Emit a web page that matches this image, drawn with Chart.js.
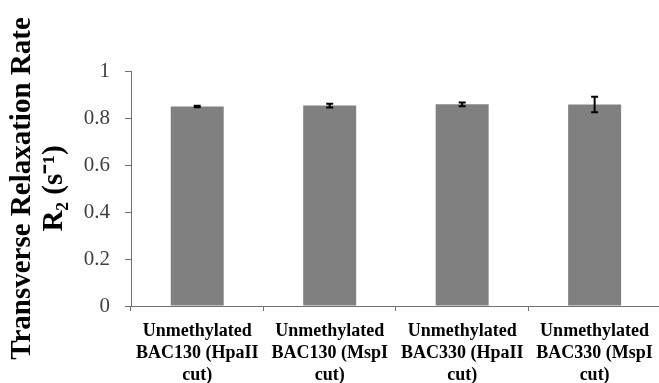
<!DOCTYPE html>
<html>
<head>
<meta charset="utf-8">
<script src="https://cdn.jsdelivr.net/npm/chart.js@4/dist/chart.umd.min.js"></script>
<style>
  html, body { margin: 0; padding: 0; background: #fff; overflow: hidden; }
</style>
</head>
<body>
<canvas id="chart" width="663" height="383"></canvas>
<script>
const categories = [
  ["Unmethylated", "BAC130 (HpaII", "cut)"],
  ["Unmethylated", "BAC130 (MspI", "cut)"],
  ["Unmethylated", "BAC330 (HpaII", "cut)"],
  ["Unmethylated", "BAC330 (MspI", "cut)"],
];
const r2_values = [0.849, 0.853, 0.858, 0.857];
const r2_errors = [0.003, 0.008, 0.008, 0.033];
const y_title = ["Transverse Relaxation Rate", "R\u2082 (s\u207B\u00B9)"];

const axis_color = "#707070";

// draws the black error bars on top of the bars
const errorBars = {
  id: "errorBars",
  afterDatasetsDraw(chart) {
    const ctx = chart.ctx,
    meta = chart.getDatasetMeta(0),
    y = chart.scales.y;
    ctx.save();
    ctx.strokeStyle = "#000";
    ctx.lineWidth = 2;
    meta.data.forEach((bar, i) => {
      const top = y.getPixelForValue(r2_values[i] + r2_errors[i]),
      bottom = y.getPixelForValue(r2_values[i] - r2_errors[i]);
      ctx.beginPath();
      ctx.moveTo(bar.x, top);
      ctx.lineTo(bar.x, bottom);
      ctx.moveTo(bar.x - 3.5, top);
      ctx.lineTo(bar.x + 3.5, top);
      ctx.moveTo(bar.x - 3.5, bottom);
      ctx.lineTo(bar.x + 3.5, bottom);
      ctx.stroke();
    });
    ctx.restore();
  },
};

new Chart(document.getElementById("chart"), {
  type: "bar",
  data: {
    labels: categories,
    datasets: [{
      data: r2_values,
      backgroundColor: "#808080",
      borderWidth: 0,
      categoryPercentage: 1,
      barPercentage: 0.4,
    }],
  },
  options: {
    responsive: false,
    animation: false,
    layout: { padding: { left: 0, right: 1, top: 71, bottom: 0 } },
    plugins: {
      legend: { display: false },
      tooltip: { enabled: false },
    },
    scales: {
      x: {
        grid: { drawOnChartArea: false, drawTicks: true, tickLength: 5, color: axis_color },
        border: { display: true, color: axis_color, width: 1 },
        ticks: {
          color: "#000",
          padding: 10,
          maxRotation: 0,
          autoSkip: false,
          font: { family: "'Liberation Serif'", size: 18, weight: "bold", lineHeight: 1.2 },
        },
        afterFit(scale) { scale.height = 77; },
      },
      y: {
        min: 0,
        max: 1,
        ticks: {
          stepSize: 0.2,
          color: "#404040",
          padding: 15,
          font: { family: "'Liberation Serif'", size: 21 },
          callback: value => String(Math.round(value * 10) / 10),
        },
        grid: { drawOnChartArea: false, drawTicks: true, tickLength: 6, color: axis_color },
        border: { display: true, color: axis_color, width: 1 },
        title: {
          display: true,
          text: y_title,
          color: "#000",
          padding: { top: 7, bottom: 0 },
          font: { family: "'Liberation Serif'", size: 29, weight: "bold", lineHeight: 1.1 },
        },
        afterFit(scale) { scale.width = 131; },
      },
    },
  },
  plugins: [errorBars],
});
</script>
</body>
</html>
